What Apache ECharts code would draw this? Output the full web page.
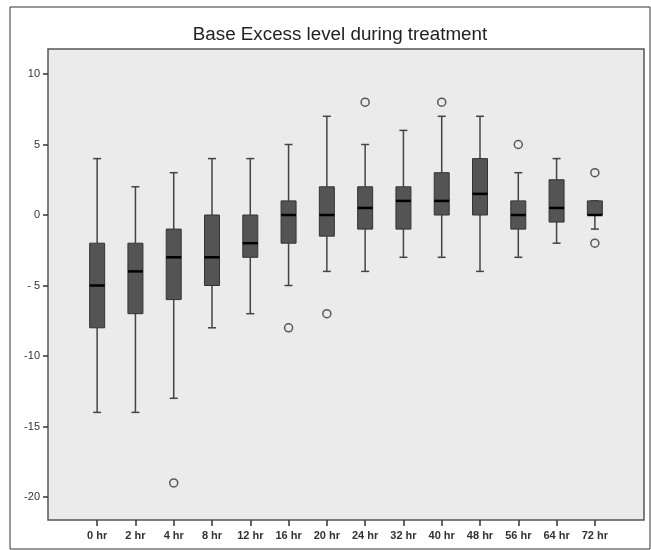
<!DOCTYPE html>
<html>
<head>
<meta charset="utf-8">
<script src="https://cdn.jsdelivr.net/npm/echarts@6/dist/echarts.min.js"></script>
<style>html,body{margin:0;padding:0;background:#fff;}#c{width:651px;height:550px;}</style>
</head>
<body>
<div id="c"></div>
<script>
var categories = ['0 hr','2 hr','4 hr','8 hr','12 hr','16 hr','20 hr','24 hr','32 hr','40 hr','48 hr','56 hr','64 hr','72 hr'];
var lowWhisker  = [-14,-14,-13,-8,-7,-5,-4,-4,-3,-3,-4,-3,-2,-1];
var q1          = [-8,-7,-6,-5,-3,-2,-1.5,-1,-1,0,0,-1,-0.5,0];
var median      = [-5,-4,-3,-3,-2,0,0,0.5,1,1,1.5,0,0.5,0];
var q3          = [-2,-2,-1,0,0,1,2,2,2,3,4,1,2.5,1];
var highWhisker = [4,2,3,4,4,5,7,5,6,7,7,3,4,1];
var outlierCats = ['4 hr','16 hr','20 hr','24 hr','40 hr','56 hr','72 hr','72 hr'];
var outlierVals = [-19,-8,-7,8,8,5,3,-2];
var yTicks = [-20,-15,-10,-5,0,5,10];

var boxData = categories.map(function(c,i){return [i, lowWhisker[i], q1[i], median[i], q3[i], highWhisker[i]];});
var outData = outlierCats.map(function(c,i){return [categories.indexOf(c), outlierVals[i]];});

var chart = echarts.init(document.getElementById('c'));
chart.setOption({
  animation:false,
  backgroundColor:'#fff',
  title:{text:'Base Excess level during treatment', left:335, top:20, textAlign:'center',
    textStyle:{fontFamily:'Liberation Sans, Arial, sans-serif', fontSize:18.8, fontWeight:'normal', color:'#222'}},
  graphic:[
    {type:'rect', z:-20, silent:true, shape:{x:10,y:7,width:640,height:542}, style:{fill:'#fff', stroke:'#333', lineWidth:1}},
    {type:'rect', z:-10, silent:true, shape:{x:48,y:49,width:596,height:471}, style:{fill:'#ebebeb', stroke:'#555', lineWidth:1.5}}
  ],
  grid:{left:78, right:37, top:74, bottom:53, show:false},
  xAxis:{type:'category', data:categories, offset:23, boundaryGap:true,
    axisLine:{show:false, onZero:false},
    axisTick:{show:true, alignWithLabel:true, length:6, lineStyle:{color:'#333', width:1.5}},
    axisLabel:{margin:10, color:'#333', fontSize:11, fontWeight:'bold', fontFamily:'Liberation Sans, Arial, sans-serif', interval:0},
    splitLine:{show:false}},
  yAxis:{type:'value', min:yTicks[0], max:yTicks[yTicks.length-1], interval:5, offset:30,
    axisLine:{show:false, onZero:false},
    axisTick:{show:true, length:5, lineStyle:{color:'#333', width:1.5}},
    axisLabel:{margin:8, color:'#333', fontSize:11, fontFamily:'Liberation Sans, Arial, sans-serif',
      formatter:function(v){ if(v<0){ var a=Math.abs(v); return '-' + (a<10?' ':'') + a; } return String(v); }},
    splitLine:{show:false}},
  series:[
    {type:'custom', data:boxData, z:3,
      renderItem:function(params, api){
        var x = api.value(0);
        var pLow = api.coord([x, api.value(1)]);
        var pQ1 = api.coord([x, api.value(2)]);
        var pMed = api.coord([x, api.value(3)]);
        var pQ3 = api.coord([x, api.value(4)]);
        var pHigh = api.coord([x, api.value(5)]);
        var cx = pQ1[0], bw = 15, cw = 8;
        var wl = {stroke:'#444', lineWidth:1.5};
        return {type:'group', children:[
          {type:'line', shape:{x1:cx,y1:pHigh[1],x2:cx,y2:pQ3[1]}, style:wl},
          {type:'line', shape:{x1:cx,y1:pQ1[1],x2:cx,y2:pLow[1]}, style:wl},
          {type:'line', shape:{x1:cx-cw/2,y1:pHigh[1],x2:cx+cw/2,y2:pHigh[1]}, style:wl},
          {type:'line', shape:{x1:cx-cw/2,y1:pLow[1],x2:cx+cw/2,y2:pLow[1]}, style:wl},
          {type:'rect', shape:{x:cx-bw/2, y:pQ3[1], width:bw, height:pQ1[1]-pQ3[1]}, style:{fill:'#545454', stroke:'#333', lineWidth:1}},
          {type:'line', shape:{x1:cx-bw/2,y1:pMed[1],x2:cx+bw/2,y2:pMed[1]}, style:{stroke:'#000', lineWidth:2.5}}
        ]};
      }},
    {type:'scatter', data:outData, symbol:'circle', symbolSize:8, z:4,
      itemStyle:{color:'rgba(0,0,0,0)', borderColor:'#333', borderWidth:1.5}}
  ]
});
</script>
</body>
</html>
